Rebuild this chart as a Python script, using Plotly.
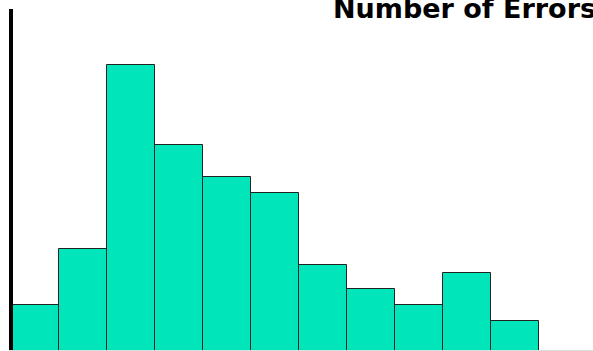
import plotly.graph_objects as go

categories = list(range(11))
errors = [6, 13, 36, 26, 22, 20, 11, 8, 6, 10, 4]
title_text = "Number of Errors"

W, H = 593, 351
L, T, B = 13, 9, 1
plot_w = W - L
plot_h = H - T - B

fig = go.Figure(go.Bar(
    x=categories, y=errors,
    marker=dict(color="#00E6BA", line=dict(color="#222222", width=1)),
    width=1.0,
))

fig.update_layout(
    width=W, height=H,
    margin=dict(l=L, r=0, t=T, b=B, pad=0),
    paper_bgcolor="white", plot_bgcolor="white",
    bargap=0, showlegend=False,
    xaxis=dict(range=[-0.4583, 11.625], showgrid=False, zeroline=False,
               showticklabels=False, ticks="", showline=True,
               linecolor="#dddddd", linewidth=1),
    yaxis=dict(range=[0.375, 43.0], showgrid=False, zeroline=False,
               showticklabels=False, ticks="", showline=True,
               linecolor="black", linewidth=4),
    annotations=[dict(
        text=f"<b>{title_text}</b>", xref="paper", yref="paper",
        x=(331 - L) / plot_w, y=(H - B - 8) / plot_h,
        xanchor="left", yanchor="middle", showarrow=False,
        font=dict(family="DejaVu Sans", size=27, color="black"),
    )],
)

fig.write_html("out.html")
